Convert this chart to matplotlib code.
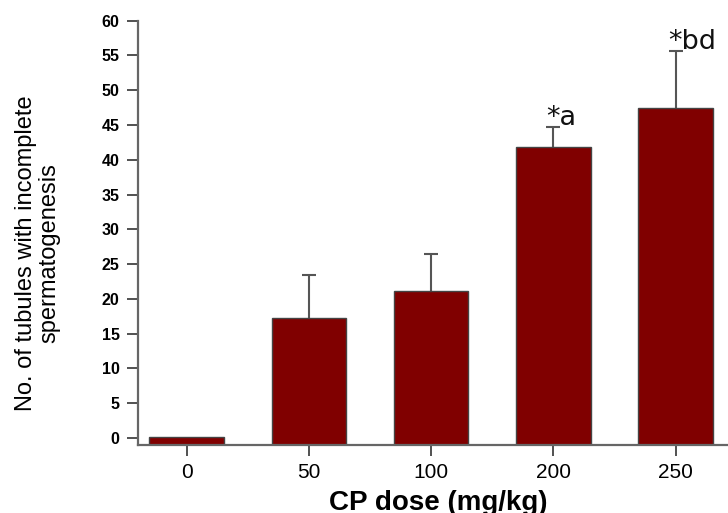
import matplotlib
matplotlib.use('Agg')
import matplotlib.pyplot as plt
import numpy as np

# data
doses = ['0', '50', '100', '200', '250']
means = [0.2, 17.3, 21.1, 41.9, 47.5]
errs = [0.0, 6.2, 5.4, 2.8, 8.1]
marks = ['', '', '', '*a', '*bd']

plt.rcParams['font.family'] = ['Liberation Sans', 'DejaVu Sans']

fig = plt.figure(figsize=(7.28, 5.13), dpi=100)
ax = fig.add_axes([0.189, 0.1326, 0.84, 0.827])

ymin = -1
x = np.arange(len(doses))
vals = np.array(means)
e = np.array(errs)
ax.bar(x, vals - ymin, bottom=ymin, width=0.61, color='#800000',
       edgecolor='#444444', linewidth=1.0, zorder=2)
# upper error bars only, skip bars without error
has = e > 0
_, caps, _ = ax.errorbar(x[has], vals[has], yerr=[np.zeros(has.sum()), e[has]],
                         fmt='none', ecolor='#555555', elinewidth=1.5,
                         capsize=5, capthick=1.5, zorder=1)
caps[0].set_visible(False)

for xi, v, er, m in zip(x, means, errs, marks):
    if m:
        ax.text(xi - 0.06, v + er + 0.35, m, ha='left', va='baseline',
                fontsize=19.5, family='DejaVu Sans', color='#111111')

ax.set_xlim(-0.4, 4.6)
ax.set_ylim(ymin, 60)
ax.set_yticks(np.arange(0, 61, 5))
ax.set_xticks(x)
ax.set_xticklabels(doses, fontsize=15)
for lab in ax.get_yticklabels():
    lab.set_fontweight('bold')
    lab.set_fontsize(11.5)

for s in ['top', 'right']:
    ax.spines[s].set_visible(False)
for s in ['left', 'bottom']:
    ax.spines[s].set_color('#666666')
    ax.spines[s].set_linewidth(1.6)
ax.tick_params(axis='both', direction='out', length=8, width=1.2, color='#333333')
ax.tick_params(axis='y', pad=5)
ax.tick_params(axis='x', pad=5)

fig.text(438 / 728, 0.006, 'CP dose (mg/kg)', fontsize=20, fontweight='bold',
         ha='center', va='baseline')
fig.text(38 / 728, 0.507, 'No. of tubules with incomplete\nspermatogenesis',
         fontsize=17, rotation=90, ha='center', va='center',
         multialignment='center', linespacing=1.1)

fig.savefig('out.png', dpi=100)
